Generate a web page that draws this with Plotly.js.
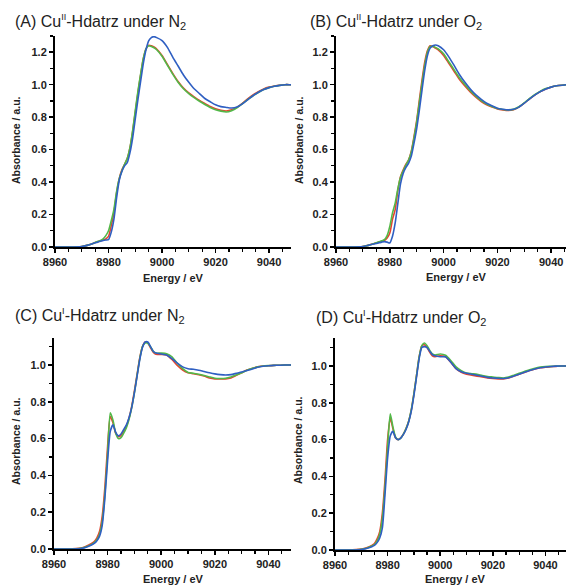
<!DOCTYPE html>
<html>
<head>
<meta charset="utf-8">
<script src="https://cdn.plot.ly/plotly-3.0.1.min.js"></script>
<style>html,body{margin:0;padding:0;background:#fff;}#chart{width:566px;height:586px;}</style>
</head>
<body>
<div id="chart"></div>
<script>
// Energy grid (eV)
const energy = [8960,8965,8970,8972,8974,8975,8976,8977,8978,8979,8980,8981,8982,8983,8984,8985,8986,8987,8988,8989,8990,8991,8992,8993,8994,8995,8996,8997,8998,9000,9002,9004,9006,9008,9010,9012,9014,9016,9018,9020,9022,9024,9026,9028,9030,9032,9034,9036,9038,9040,9042,9044,9046,9048,9050];

// (A) Cu(II)-Hdatrz under N2
const A_red   = [0,0,0.003,0.01,0.02,0.028,0.033,0.038,0.043,0.05,0.065,0.13,0.21,0.33,0.42,0.475,0.51,0.545,0.61,0.71,0.83,0.95,1.06,1.16,1.22,1.243,1.24,1.232,1.22,1.18,1.125,1.07,1.02,0.98,0.95,0.925,0.903,0.884,0.866,0.852,0.843,0.838,0.845,0.86,0.885,0.912,0.937,0.957,0.974,0.985,0.992,0.997,1.0,1.0,1.0];
const A_green = [0,0,0.003,0.01,0.02,0.028,0.034,0.04,0.05,0.07,0.1,0.16,0.23,0.34,0.42,0.47,0.51,0.545,0.61,0.715,0.84,0.96,1.065,1.16,1.22,1.24,1.235,1.228,1.215,1.175,1.12,1.065,1.015,0.975,0.945,0.92,0.898,0.878,0.86,0.846,0.837,0.832,0.84,0.857,0.882,0.908,0.932,0.952,0.97,0.982,0.99,0.996,1.0,1.0,1.0];
const A_blue  = [0,0,0.003,0.01,0.02,0.026,0.03,0.035,0.04,0.043,0.045,0.09,0.17,0.3,0.41,0.465,0.5,0.52,0.58,0.67,0.79,0.91,1.02,1.13,1.215,1.27,1.29,1.296,1.29,1.272,1.23,1.17,1.115,1.06,1.015,0.975,0.945,0.915,0.895,0.876,0.865,0.86,0.856,0.862,0.882,0.907,0.932,0.953,0.97,0.982,0.99,0.996,1.0,1.0,1.0];

// (B) Cu(II)-Hdatrz under O2
const B_red   = [0,0,0.003,0.01,0.02,0.025,0.03,0.035,0.04,0.055,0.086,0.17,0.23,0.35,0.435,0.476,0.51,0.537,0.59,0.68,0.78,0.907,1.03,1.14,1.21,1.24,1.235,1.225,1.215,1.18,1.13,1.08,1.03,0.99,0.954,0.923,0.896,0.876,0.862,0.851,0.845,0.841,0.845,0.862,0.886,0.913,0.937,0.958,0.974,0.985,0.993,0.997,1.0,1.0,1.0];
const B_green = [0,0,0.003,0.01,0.02,0.026,0.032,0.038,0.045,0.07,0.127,0.21,0.27,0.36,0.43,0.47,0.505,0.535,0.585,0.67,0.77,0.89,1.01,1.12,1.2,1.235,1.235,1.23,1.22,1.19,1.14,1.09,1.04,1.0,0.962,0.93,0.902,0.881,0.865,0.853,0.847,0.845,0.848,0.864,0.888,0.915,0.94,0.96,0.976,0.986,0.993,0.997,1.0,1.0,1.0];
const B_blue  = [0,0,0.003,0.01,0.018,0.022,0.026,0.03,0.033,0.03,0.025,0.066,0.148,0.27,0.39,0.455,0.49,0.517,0.56,0.64,0.73,0.845,0.97,1.09,1.18,1.225,1.24,1.245,1.24,1.215,1.17,1.116,1.06,1.013,0.972,0.937,0.91,0.886,0.87,0.855,0.849,0.845,0.849,0.862,0.886,0.913,0.937,0.958,0.974,0.985,0.993,0.997,1.0,1.0,1.0];

// (C) Cu(I)-Hdatrz under N2
const C_red   = [0,0,0.005,0.015,0.03,0.04,0.06,0.096,0.18,0.34,0.56,0.72,0.686,0.63,0.61,0.617,0.64,0.668,0.713,0.777,0.86,0.95,1.04,1.1,1.125,1.12,1.094,1.07,1.058,1.058,1.055,1.03,0.998,0.973,0.958,0.953,0.947,0.94,0.93,0.925,0.925,0.925,0.93,0.944,0.958,0.973,0.982,0.99,0.995,0.996,0.998,0.999,1.0,1.0,1.0];
const C_green = [0,0,0.004,0.012,0.025,0.035,0.05,0.08,0.15,0.3,0.52,0.74,0.7,0.63,0.6,0.605,0.63,0.66,0.705,0.77,0.85,0.945,1.035,1.1,1.12,1.118,1.1,1.075,1.065,1.065,1.062,1.045,1.01,0.98,0.96,0.955,0.95,0.943,0.935,0.928,0.927,0.928,0.935,0.946,0.958,0.972,0.982,0.99,0.995,0.997,0.998,0.999,1.0,1.0,1.0];
const C_blue  = [0,0,0.003,0.01,0.022,0.03,0.045,0.07,0.13,0.28,0.48,0.64,0.675,0.635,0.615,0.625,0.65,0.675,0.715,0.77,0.85,0.94,1.03,1.095,1.125,1.125,1.1,1.075,1.065,1.06,1.055,1.035,1.01,0.99,0.98,0.977,0.972,0.965,0.958,0.952,0.948,0.946,0.948,0.955,0.962,0.97,0.978,0.988,0.993,0.996,0.998,0.999,1.0,1.0,1.0];

// (D) Cu(I)-Hdatrz under O2
const D_red   = [0,0,0.005,0.012,0.025,0.035,0.06,0.1,0.2,0.38,0.6,0.718,0.66,0.61,0.6,0.61,0.63,0.66,0.7,0.76,0.85,0.95,1.05,1.11,1.115,1.1,1.075,1.055,1.05,1.055,1.05,1.02,0.985,0.965,0.955,0.95,0.945,0.94,0.935,0.932,0.93,0.93,0.935,0.945,0.955,0.965,0.975,0.983,0.99,0.993,0.996,0.998,1.0,1.0,1.0];
const D_green = [0,0,0.004,0.01,0.022,0.03,0.05,0.085,0.17,0.34,0.56,0.74,0.67,0.615,0.6,0.608,0.63,0.66,0.7,0.762,0.85,0.95,1.05,1.11,1.125,1.11,1.085,1.065,1.06,1.065,1.058,1.03,0.995,0.975,0.962,0.958,0.955,0.948,0.943,0.94,0.937,0.935,0.94,0.95,0.96,0.97,0.98,0.988,0.994,0.997,0.998,0.999,1.0,1.0,1.0];
const D_blue  = [0,0,0.003,0.008,0.018,0.025,0.04,0.065,0.12,0.3,0.5,0.62,0.645,0.61,0.6,0.608,0.628,0.655,0.695,0.755,0.84,0.94,1.04,1.1,1.105,1.1,1.08,1.062,1.055,1.05,1.05,1.02,0.985,0.968,0.96,0.955,0.95,0.944,0.938,0.935,0.933,0.932,0.936,0.945,0.955,0.966,0.976,0.984,0.99,0.994,0.997,0.999,1.0,1.0,1.0];

const panelTitles = [
  "(A) Cu<sup><span style='font-size:9px'>II</span></sup>-Hdatrz under N<sub><span style='font-size:11px'>2</span></sub>",
  "(B) Cu<sup><span style='font-size:9px'>II</span></sup>-Hdatrz under O<sub><span style='font-size:11px'>2</span></sub>",
  "(C) Cu<sup><span style='font-size:9px'>I</span></sup>-Hdatrz under N<sub><span style='font-size:11px'>2</span></sub>",
  "(D) Cu<sup><span style='font-size:9px'>I</span></sup>-Hdatrz under O<sub><span style='font-size:11px'>2</span></sub>"
];
const xTitle = "Energy / eV";
const yTitle = "Absorbance / a.u.";

const colors = {red:"#e5432f", green:"#52b848", blue:"#2f5fc2"};

const W = 566, H = 586;
const px = v => v / W;
const py = v => 1 - v / H;

const panels = [
  {series:[A_red,A_green,A_blue], x0:55,  x1:291, yb:247, yt:36,  xr:[8960,9048.2], yr:[0,1.3]},
  {series:[B_red,B_green,B_blue], x0:336, x1:566, yb:247, yt:36,  xr:[8960,9045.5], yr:[0,1.3]},
  {series:[C_red,C_green,C_blue], x0:54,  x1:291, yb:549, yt:338, xr:[8960,9048.4], yr:[0,1.147]},
  {series:[D_red,D_green,D_blue], x0:335, x1:566, yb:550, yt:338, xr:[8960,9047.8], yr:[0,1.152]}
];

const traces = [];
const layout = {
  width: W, height: H,
  margin: {l:0, r:0, t:0, b:0},
  paper_bgcolor: "#fff", plot_bgcolor: "#fff",
  showlegend: false,
  font: {family: "Liberation Sans, Arial, sans-serif", color: "#222"},
  annotations: []
};

const tickFont = {family: "Liberation Sans, Arial, sans-serif", size: 11, color: "#222", weight: "bold"};
const titlePos = [[13,22],[308,22],[13,316],[314,318]];
const xtPos = [[173,278],[456,277],[173,579],[455,579]];
const ytPos = [[16,140],[299,140],[16,441],[298,440]];

panels.forEach((p, i) => {
  const n = i + 1;
  const xa = n === 1 ? "x" : "x" + n;
  const ya = n === 1 ? "y" : "y" + n;
  const names = ["red","green","blue"];
  p.series.forEach((s, k) => {
    traces.push({
      x: energy, y: s, xaxis: xa, yaxis: ya, type: "scatter", mode: "lines",
      line: {color: colors[names[k]], width: 1.6, shape: "spline", smoothing: 0.6},
      hoverinfo: "skip"
    });
  });
  layout["xaxis" + (n === 1 ? "" : n)] = {
    domain: [px(p.x0), px(p.x1)], anchor: ya, range: p.xr,
    tickvals: [8960, 8980, 9000, 9020, 9040], ticktext: ["8960","8980","9000","9020","9040"],
    ticks: "outside", ticklen: 4, tickwidth: 1.5, tickcolor: "#000",
    minor: {dtick: 5, tick0: 8960, ticks: "outside", ticklen: 3, tickwidth: 1.2, tickcolor: "#000"},
    showline: true, linecolor: "#000", linewidth: 2,
    showgrid: false, zeroline: false, tickfont: tickFont, fixedrange: true
  };
  layout["yaxis" + (n === 1 ? "" : n)] = {
    domain: [py(p.yb), py(p.yt)], anchor: xa, range: p.yr,
    dtick: 0.2, tick0: 0, tickformat: ".1f",
    ticks: "outside", ticklen: 4, tickwidth: 1.5, tickcolor: "#000",
    minor: {dtick: 0.1, tick0: 0, ticks: "outside", ticklen: 3, tickwidth: 1.2, tickcolor: "#000"},
    showline: true, linecolor: "#000", linewidth: 2,
    showgrid: false, zeroline: false, tickfont: tickFont, fixedrange: true
  };
  layout.annotations.push({
    text: panelTitles[i], xref: "paper", yref: "paper",
    x: px(titlePos[i][0]), y: py(titlePos[i][1]), xanchor: "left", yanchor: "middle",
    showarrow: false, font: {family: "Liberation Sans, Arial, sans-serif", size: 16, color: "#222"}
  });
  layout.annotations.push({
    text: xTitle, xref: "paper", yref: "paper",
    x: px(xtPos[i][0]), y: py(xtPos[i][1]), xanchor: "center", yanchor: "middle",
    showarrow: false, font: {family: "Liberation Sans, Arial, sans-serif", size: 11, color: "#222", weight: "bold"}
  });
  layout.annotations.push({
    text: yTitle, xref: "paper", yref: "paper", textangle: -90,
    x: px(ytPos[i][0]), y: py(ytPos[i][1]), xanchor: "center", yanchor: "middle",
    showarrow: false, font: {family: "Liberation Sans, Arial, sans-serif", size: 10.5, color: "#222", weight: "bold"}
  });
});

Plotly.newPlot("chart", traces, layout, {staticPlot: true, displayModeBar: false});
</script>
</body>
</html>
